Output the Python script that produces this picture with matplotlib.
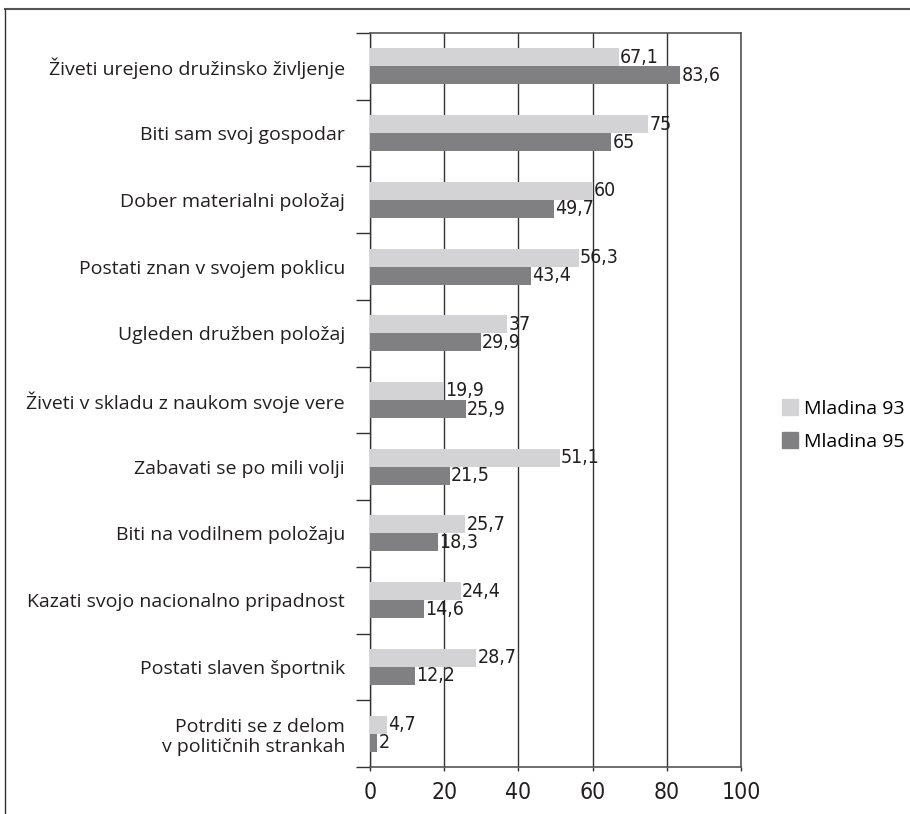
import os
import matplotlib
matplotlib.use('Agg')
import matplotlib.pyplot as plt
import numpy as np
from matplotlib import font_manager
from matplotlib.lines import Line2D
from matplotlib.patches import Patch

categories = ['Živeti urejeno družinsko življenje',
              'Biti sam svoj gospodar',
              'Dober materialni položaj',
              'Postati znan v svojem poklicu',
              'Ugleden družben položaj',
              'Živeti v skladu z naukom svoje vere',
              'Zabavati se po mili volji',
              'Biti na vodilnem položaju',
              'Kazati svojo nacionalno pripadnost',
              'Postati slaven športnik',
              'Potrditi se z delom\nv političnih strankah']
mladina93 = [67.1, 75, 60, 56.3, 37, 19.9, 51.1, 25.7, 24.4, 28.7, 4.7]
mladina95 = [83.6, 65, 49.7, 43.4, 29.9, 25.9, 21.5, 18.3, 14.6, 12.2, 2]
series_names = ['Mladina 93', 'Mladina 95']
xticks = [0, 20, 40, 60, 80, 100]

c93 = '#d3d3d5'
c95 = '#808083'

# narrow regular face for the numbers, if there is one
narrow = None
for f in font_manager.fontManager.ttflist:
    if os.path.basename(f.fname) == 'DejaVuSansCondensed.ttf':
        narrow = f.fname
        break
if narrow is not None:
    num_font = font_manager.FontProperties(fname=narrow)
    tick_font = font_manager.FontProperties(fname=narrow)
else:
    num_font = font_manager.FontProperties(family='Open Sans')
    tick_font = font_manager.FontProperties(family='Open Sans')
plt.rcParams['font.family'] = ['Open Sans', 'DejaVu Sans']

def fmt(v):
    return ('%g' % v).replace('.', ',')

fig = plt.figure(figsize=(9.1, 8.14), dpi=100)
ax = fig.add_axes([370/910, 1-767/814, 371/910, 734/814])

y = np.arange(len(categories))
h = 0.27
ax.barh(y - h/2, mladina93, height=h, color=c93, label=series_names[0], zorder=3)
ax.barh(y + h/2, mladina95, height=h, color=c95, label=series_names[1], zorder=3)

num_font.set_size(14)
for i in range(len(categories)):
    ax.text(mladina93[i] + 0.3, y[i] - h/2, fmt(mladina93[i]), va='center', ha='left',
            fontproperties=num_font, color='#231f20', zorder=4)
    ax.text(mladina95[i] + 0.3, y[i] + h/2, fmt(mladina95[i]), va='center', ha='left',
            fontproperties=num_font, color='#231f20', zorder=4)

tick_font.set_size(16.5)
ax.set_xlim(0, 100)
ax.set_ylim(len(categories) - 0.5, -0.5)
ax.set_xticks(xticks)
ax.set_xticklabels([str(t) for t in xticks], fontproperties=tick_font, color='#231f20')
ax.tick_params(axis='x', length=3, width=1, color='#333333', pad=7)

ax.set_yticks(np.arange(-0.5, len(categories) + 0.5, 1))
ax.set_yticklabels([])
ax.tick_params(axis='y', which='major', length=10, width=1, color='#333333')
ax.set_yticks(y, minor=True)
ax.set_yticklabels(categories, minor=True, fontsize=14, color='#231f20')
ax.tick_params(axis='y', which='minor', length=0, pad=18)

ax.grid(axis='x', color='#333333', linewidth=1, zorder=1)
for sp in ['top', 'bottom', 'right']:
    ax.spines[sp].set_color('#555555')
    ax.spines[sp].set_linewidth(1.2)
ax.spines['left'].set_color('#333333')
ax.spines['left'].set_linewidth(1)

fig.add_artist(Line2D([5/910, 1], [1-9/814, 1-9/814], color='#555555', linewidth=1.5))
fig.add_artist(Line2D([5/910, 5/910], [0, 1-9/814], color='#333333', linewidth=1))

handles = [Patch(color=c93), Patch(color=c95)]
fig.legend(handles, series_names, loc='center left', bbox_to_anchor=(772/910, 1-425/814),
           frameon=False, fontsize=14, handlelength=0.85, handleheight=0.85,
           handletextpad=0.3, labelspacing=0.75, borderpad=0)

fig.savefig('out.png', dpi=100)
